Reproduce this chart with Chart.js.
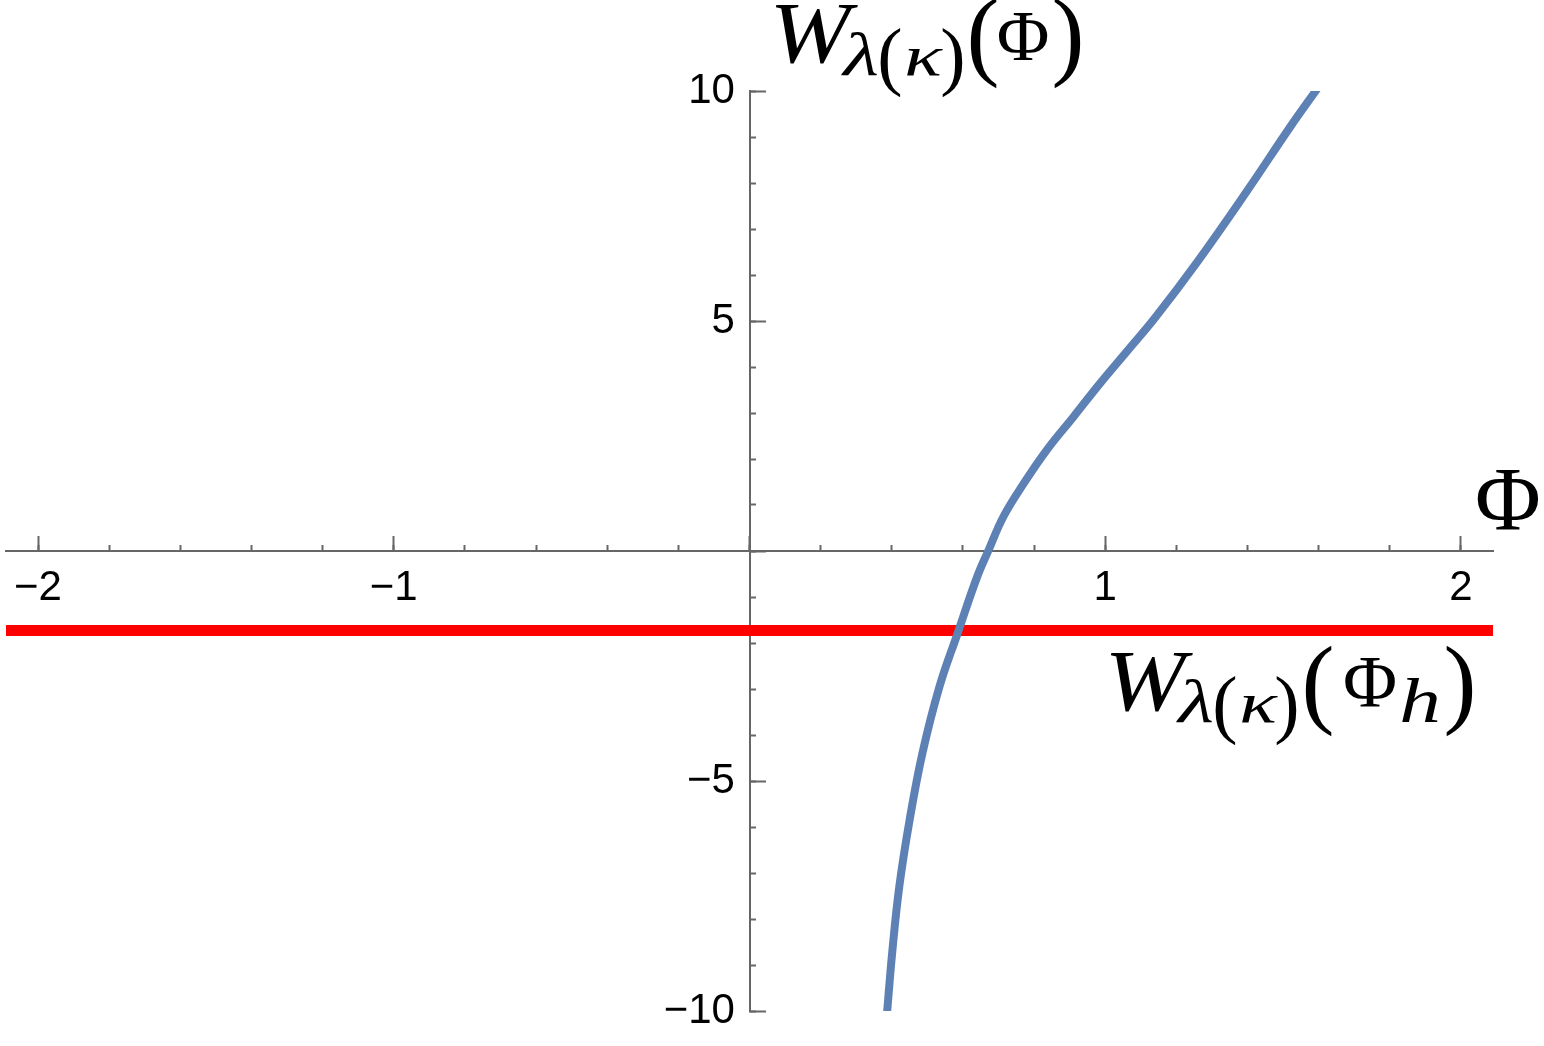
<!DOCTYPE html>
<html>
<head>
<meta charset="utf-8">
<title>W(Φ)</title>
<script src="https://cdn.jsdelivr.net/npm/chart.js@4/dist/chart.umd.min.js"></script>
<style>
  body { margin: 0; background: #fff; }
  #box { width: 1544px; height: 1046px; }
</style>
</head>
<body>
<div id="box"><canvas id="grafico"></canvas></div>
<script>
// curve W(Φ), values
const phiValues = [0.386, 0.401, 0.421, 0.450, 0.486, 0.534, 0.585, 0.640, 0.671, 0.714, 0.771, 0.836, 0.911, 0.986, 1.061, 1.140, 1.262, 1.398, 1.520, 1.596];
const wValues = [-10.1, -8.74, -7.30, -5.85, -4.40, -2.95, -1.79, -0.56, 0.0, 0.75, 1.47, 2.20, 2.92, 3.65, 4.34, 5.07, 6.32, 7.82, 9.22, 10.05];

// horizontal line W(Φh)
const horizonX = [-2.09, 2.09];
const horizonW = -1.73;

// axes
const xRange = [-2.09, 2.09];
const yRange = [-10, 10];
const xTickLabels = [-2, -1, 1, 2];
const yTickLabels = [-10, -5, 5, 10];

const axisGray = '#666666';
const fmt = v => (v < 0 ? '\u2212' + Math.abs(v) : String(v));

// centred axes take no room in the layout
function noSpaceH(s) { s.height = 0; s.paddingLeft = s.paddingRight = s.paddingTop = s.paddingBottom = 0; }
function noSpaceV(s) { s.width = 0; s.paddingLeft = s.paddingRight = s.paddingTop = s.paddingBottom = 0; }

const tickFont = { family: 'Liberation Sans', size: 42, lineHeight: 1 };

// math labels drawn as text (sx = horizontal stretch)
const serif = 'Liberation Serif';
const mathLabels = [
  // W_{λ(κ)}(Φ) top
  { t: 'W', x: 810, y: 62, size: 86, it: true, sx: 1.13 },
  { t: '\u03bb', x: 861, y: 75, size: 61, it: true, sx: 1.35 },
  { t: '(', x: 890, y: 81, size: 76 },
  { t: '\u03ba', x: 923, y: 75, size: 56, it: true, sx: 1.4 },
  { t: ')', x: 953, y: 81, size: 76 },
  { t: '(', x: 983, y: 67, size: 99 },
  { t: '\u03a6', x: 1023, y: 60, size: 72 },
  { t: ')', x: 1068, y: 67, size: 99 },
  // Φ at the end of the x axis
  { t: '\u03a6', x: 1508, y: 530, size: 90 },
  // W_{λ(κ)}(Φ_h) under the red line
  { t: 'W', x: 1145, y: 710, size: 86, it: true, sx: 1.13 },
  { t: '\u03bb', x: 1196, y: 722, size: 61, it: true, sx: 1.35 },
  { t: '(', x: 1225, y: 729, size: 76 },
  { t: '\u03ba', x: 1258, y: 722, size: 56, it: true, sx: 1.4 },
  { t: ')', x: 1287, y: 729, size: 76 },
  { t: '(', x: 1318, y: 715, size: 99 },
  { t: '\u03a6', x: 1370, y: 707, size: 74 },
  { t: 'h', x: 1420, y: 722, size: 64, it: true, sx: 1.3 },
  { t: ')', x: 1460, y: 715, size: 99 }
];

const mathPlugin = {
  id: 'mathLabels',
  afterDraw(chart) {
    const ctx = chart.ctx;
    mathLabels.forEach(g => {
      ctx.save();
      ctx.fillStyle = '#000';
      ctx.textAlign = 'center';
      ctx.textBaseline = 'alphabetic';
      ctx.font = (g.it ? 'italic ' : '') + g.size + 'px "' + serif + '"';
      ctx.translate(g.x, g.y);
      ctx.scale(g.sx || 1, 1);
      ctx.fillText(g.t, 0, 0);
      ctx.restore();
    });
  }
};

new Chart(document.getElementById('grafico'), {
  type: 'line',
  data: {
    datasets: [
      {
        data: phiValues.map((p, i) => ({ x: p, y: wValues[i] })),
        borderColor: '#5e81b5',
        borderWidth: 8,
        pointRadius: 0,
        tension: 0.4,
        fill: false
      },
      {
        data: horizonX.map(p => ({ x: p, y: horizonW })),
        borderColor: '#ff0000',
        borderWidth: 11,
        pointRadius: 0,
        fill: false
      }
    ]
  },
  options: {
    responsive: true,
    maintainAspectRatio: false,
    animation: false,
    events: [],
    layout: { padding: { left: 6, right: 51, top: 91, bottom: 35 } },
    plugins: { legend: { display: false }, tooltip: { enabled: false } },
    scales: {
      // minor ticks + axis line
      x: {
        type: 'linear', min: xRange[0], max: xRange[1],
        position: { y: 0 },
        afterFit: noSpaceH,
        ticks: { display: false, stepSize: 0.2, includeBounds: false, autoSkip: false, maxTicksLimit: 100 },
        grid: { drawOnChartArea: false, tickLength: -7, tickColor: axisGray, tickWidth: 2 },
        border: { display: true, color: axisGray, width: 2 }
      },
      xMaj: {
        type: 'linear', min: xRange[0], max: xRange[1], axis: 'x',
        position: { y: 0 },
        afterFit: noSpaceH,
        ticks: { display: false, stepSize: 1, includeBounds: false, autoSkip: false },
        grid: { drawOnChartArea: false, tickLength: -15, tickColor: axisGray, tickWidth: 2 },
        border: { display: false }
      },
      xLab: {
        type: 'linear', min: xRange[0], max: xRange[1], axis: 'x',
        position: { y: -0.359 },
        afterFit: noSpaceH,
        ticks: {
          stepSize: 1, includeBounds: false, autoSkip: false, maxRotation: 0, padding: 0,
          color: '#000', font: tickFont,
          callback: v => (xTickLabels.includes(v) ? fmt(v) : '')
        },
        grid: { display: false, drawTicks: false },
        border: { display: false }
      },
      y: {
        type: 'linear', min: yRange[0], max: yRange[1],
        position: { x: 0 },
        afterFit: noSpaceV,
        ticks: { display: false, stepSize: 1, autoSkip: false, maxTicksLimit: 100 },
        grid: { drawOnChartArea: false, tickLength: -7, tickColor: axisGray, tickWidth: 2 },
        border: { display: true, color: axisGray, width: 2 }
      },
      yMaj: {
        type: 'linear', min: yRange[0], max: yRange[1], axis: 'y',
        position: { x: 0 },
        afterFit: noSpaceV,
        ticks: { display: false, stepSize: 5, autoSkip: false },
        grid: { drawOnChartArea: false, tickLength: -16, tickColor: axisGray, tickWidth: 2 },
        border: { display: false }
      },
      yLab: {
        type: 'linear', min: yRange[0], max: yRange[1], axis: 'y',
        position: { x: -0.041 },
        afterFit: noSpaceV,
        ticks: {
          stepSize: 5, autoSkip: false, padding: 0,
          color: '#000', font: tickFont,
          callback: v => (yTickLabels.includes(v) ? fmt(v) : '')
        },
        grid: { display: false, drawTicks: false },
        border: { display: false }
      }
    }
  },
  plugins: [mathPlugin]
});
</script>
</body>
</html>
